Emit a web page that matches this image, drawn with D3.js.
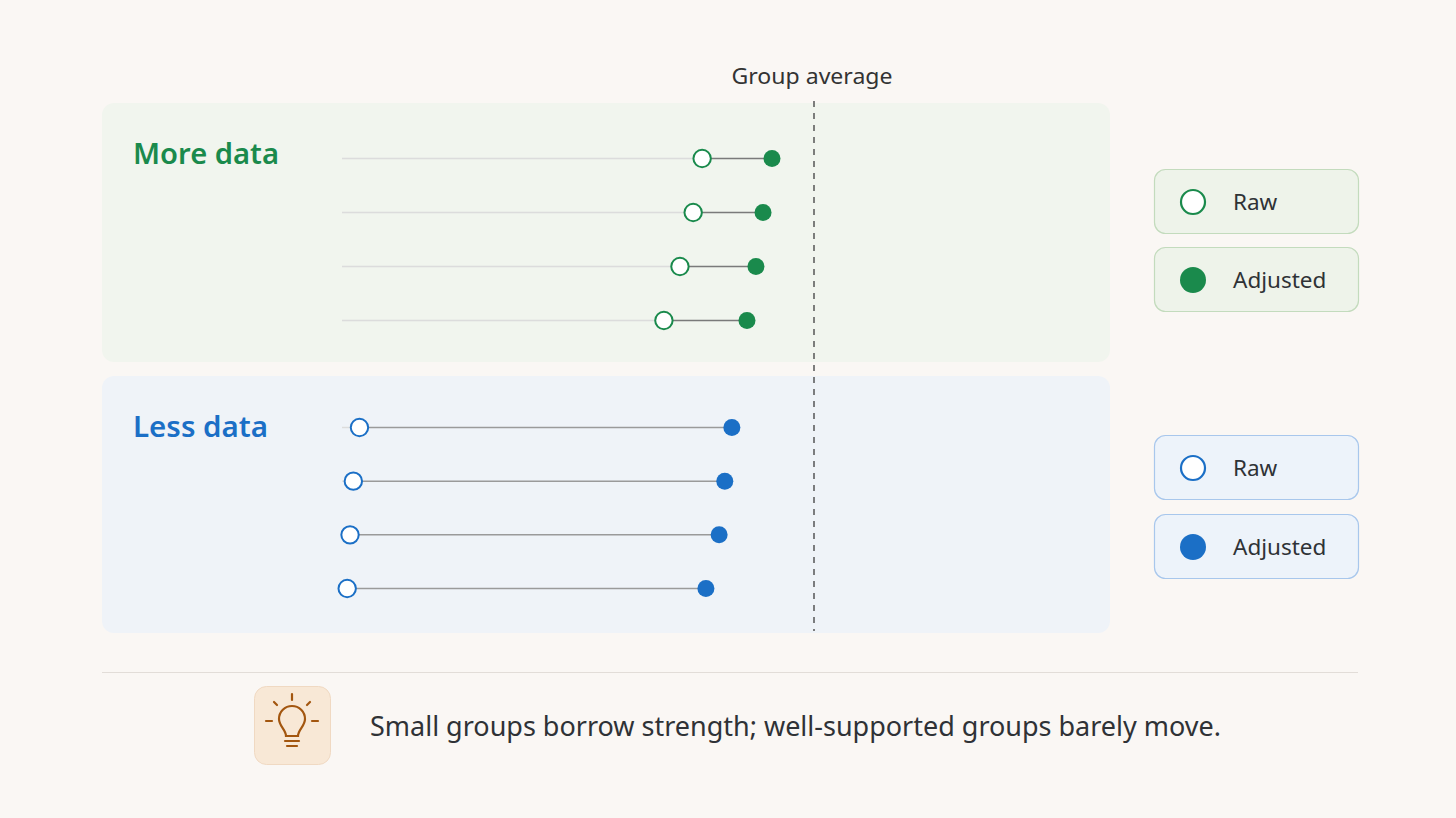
<!DOCTYPE html>
<html><head><meta charset="utf-8">
<script src="https://cdn.jsdelivr.net/npm/d3@7/dist/d3.min.js"></script>
<style>html,body{margin:0;padding:0;background:#faf7f4;}svg{display:block;}</style>
</head><body>
<svg id="c" width="1456" height="818"></svg>
<script>
// ---- data ----
const groups = ["More data", "Less data"];
const moreRaw = [76.3, 74.4, 71.6, 68.2];
const moreAdjusted = [91.1, 89.2, 87.7, 85.8];
const lessRaw = [3.7, 2.4, 1.7, 1.1];
const lessAdjusted = [82.6, 81.1, 79.9, 77.1];
const groupAverage = 100;
const legendLabels = ["Raw", "Adjusted"];
const averageLabel = "Group average";
const note = "Small groups borrow strength; well-supported groups barely move.";

const svg = d3.select("#c");
const font = "'Noto Sans', 'Open Sans', sans-serif";
const x = d3.scaleLinear().domain([0, 100]).range([342, 814]);

const panels = [
  {name: groups[0], raw: moreRaw, adj: moreAdjusted, color: "#1a8a4c", fill: "#f1f5ee", top: 103, bottom: 362,
   rows: d3.scalePoint().domain(d3.range(4)).range([158.5, 320.5]), legFill: "#eef3ea", legStroke: "#c3dbbd",
   legY: [169, 247], baseColor: "#dcdcdc", linkColor: "#7a7a7a", titleW: 146},
  {name: groups[1], raw: lessRaw, adj: lessAdjusted, color: "#1b6fc6", fill: "#eff3f8", top: 376, bottom: 633,
   rows: d3.scalePoint().domain(d3.range(4)).range([427.5, 588.5]), legFill: "#edf3fa", legStroke: "#a8c7ec",
   legY: [435, 514], baseColor: "#dcdcdc", linkColor: "#9a9a9a", titleW: 135}
];

panels.forEach(p => {
  svg.append("rect").attr("x", 102).attr("y", p.top).attr("width", 1008).attr("height", p.bottom - p.top)
    .attr("rx", 12).attr("fill", p.fill);
  svg.append("text").attr("x", 133).attr("y", p.top + 61).attr("fill", p.color)
    .attr("font-family", font).attr("font-size", 29).attr("font-weight", 600)
    .attr("textLength", p.titleW).attr("lengthAdjust", "spacingAndGlyphs").text(p.name);
  const g = svg.append("g");
  p.raw.forEach((v, i) => {
    const y = p.rows(i);
    g.append("line").attr("x1", x(0)).attr("x2", x(v)).attr("y1", y).attr("y2", y)
      .attr("stroke", p.baseColor).attr("stroke-width", 1.5);
    g.append("line").attr("x1", x(v)).attr("x2", x(p.adj[i])).attr("y1", y).attr("y2", y)
      .attr("stroke", p.linkColor).attr("stroke-width", 1.5);
    g.append("circle").attr("cx", x(p.adj[i])).attr("cy", y).attr("r", 8.5).attr("fill", p.color);
    g.append("circle").attr("cx", x(v)).attr("cy", y).attr("r", 8.7).attr("fill", "#ffffff")
      .attr("stroke", p.color).attr("stroke-width", 2);
  });
  // legend
  legendLabels.forEach((lab, k) => {
    const ly = p.legY[k];
    svg.append("rect").attr("x", 1154.5).attr("y", ly + 0.5).attr("width", 204).attr("height", 64)
      .attr("rx", 11).attr("fill", p.legFill).attr("stroke", p.legStroke).attr("stroke-width", 1.2);
    const c = svg.append("circle").attr("cx", 1193).attr("cy", ly + 33).attr("r", 12);
    if (k === 0) c.attr("fill", "#fff").attr("stroke", p.color).attr("stroke-width", 2.2);
    else c.attr("fill", p.color).attr("r", 13);
    svg.append("text").attr("x", 1233).attr("y", ly + 41).attr("fill", "#2f3236")
      .attr("font-family", font).attr("font-size", 22.5).text(lab);
  });
});

// group average line
svg.append("line").attr("x1", x(groupAverage)).attr("x2", x(groupAverage)).attr("y1", 101).attr("y2", 631)
  .attr("stroke", "#555").attr("stroke-width", 1.5).attr("stroke-dasharray", "6,6");
svg.append("text").attr("x", x(groupAverage) - 2).attr("y", 84).attr("text-anchor", "middle")
  .attr("fill", "#333").attr("font-family", font).attr("font-size", 22)
  .attr("textLength", 161).attr("lengthAdjust", "spacingAndGlyphs").text(averageLabel);

// divider
svg.append("line").attr("x1", 102).attr("x2", 1358).attr("y1", 672.5).attr("y2", 672.5)
  .attr("stroke", "#e2ddd8").attr("stroke-width", 1.2);

// bulb icon
svg.append("rect").attr("x", 254.5).attr("y", 686.5).attr("width", 76).attr("height", 78).attr("rx", 12)
  .attr("fill", "#f8e8d6").attr("stroke", "#f0d9c2").attr("stroke-width", 1);
const ic = svg.append("g").attr("transform", "translate(292,721)")
  .attr("fill", "none").attr("stroke", "#a3560f").attr("stroke-width", 2.2).attr("stroke-linecap", "round");
ic.append("path").attr("d", "M-6,15 C-6,9 -13,5 -13,-2 A13,13 0 1 1 13,-2 C13,5 6,9 6,15 Z");
ic.append("line").attr("x1", -7).attr("x2", 7).attr("y1", 20).attr("y2", 20);
ic.append("line").attr("x1", -5).attr("x2", 5).attr("y1", 25).attr("y2", 25);
[[0,-27,0,-21],[-18,-19,-15,-16],[18,-19,15,-16],[-26,0,-20,0],[26,0,20,0]].forEach(r =>
  ic.append("line").attr("x1", r[0]).attr("y1", r[1]).attr("x2", r[2]).attr("y2", r[3]));

svg.append("text").attr("x", 370).attr("y", 736).attr("fill", "#2f3236")
  .attr("font-family", font).attr("font-size", 26.5)
  .attr("textLength", 851).attr("lengthAdjust", "spacingAndGlyphs").text(note);
</script>
</body></html>
